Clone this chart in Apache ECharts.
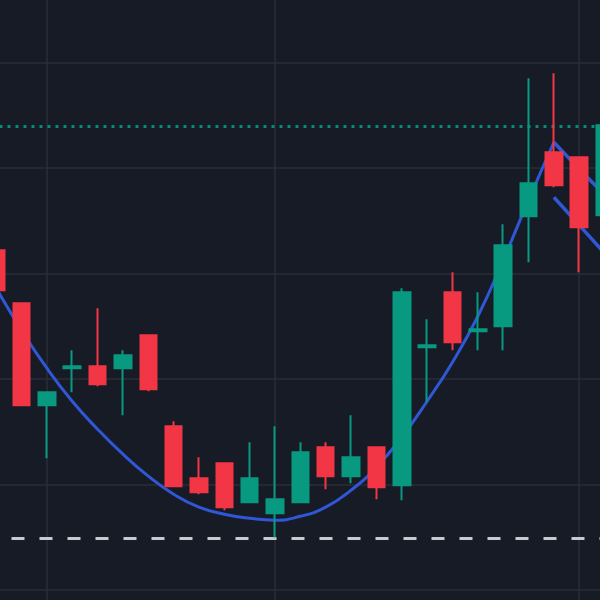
<!DOCTYPE html>
<html><head><meta charset="utf-8">
<script src="https://cdn.jsdelivr.net/npm/echarts@6/dist/echarts.min.js"></script>
<style>html,body{margin:0;padding:0;background:#171b26}#c{width:600px;height:600px}</style>
</head><body><div id="c"></div>
<script>
// ---- data ----
const categories = ['1','2','3','4','5','6','7','8','9','10','11','12','13','14','15','16','17','18','19','20','21','22','23','24','25'];
const opens  = [132.23,127.20,117.54,121.04,121.23,121.04,124.17,115.55,110.62,112.04,108.34,107.30,108.34,113.55,110.81,113.55,109.95,123.03,128.25,124.55,125.02,135.45,141.52,141.04,135.55];
const closes = [128.44,117.54,118.77,121.23,119.53,122.27,119.05,109.86,109.29,107.87,110.62,108.63,113.08,110.81,112.61,109.76,128.25,123.22,123.51,124.74,132.70,138.58,138.39,134.41,144.08];
const lows   = [128.44,117.54,112.51,118.77,119.34,116.59,118.86,109.86,109.10,107.58,108.34,105.00,108.34,109.57,110.14,108.63,108.53,117.82,122.75,122.75,122.75,131.09,138.20,130.14,135.40];
const highs  = [132.23,127.20,118.77,122.75,126.73,122.75,124.27,116.02,112.61,112.04,114.03,115.55,114.03,114.03,116.59,113.55,128.63,125.69,130.14,128.25,134.69,148.53,149.00,141.04,144.30];
const curve  = [128.63,124.64,121.04,117.91,115.26,112.89,110.81,109.10,107.87,107.20,106.82,106.64,107.01,107.87,109.48,111.66,114.50,117.91,121.61,125.97,131.28,136.97,142.46,null,null];
const channelUpper = [null,null,null,null,null,null,null,null,null,null,null,null,null,null,null,null,null,null,null,null,null,null,142.46,139.91,137.49];
const channelLower = [null,null,null,null,null,null,null,null,null,null,null,null,null,null,null,null,null,null,null,null,null,null,137.25,134.60,131.94];
const lastPrice = 144.0;
const supportLevel = 104.93;
const verticalGridIdx = [2, 11, 23];
const yTicks = {min: 90, max: 160, interval: 10};

// ---- chart ----
const UP = '#089981', DOWN = '#f23645', BLUE = '#2f57d6', GRID = '#2a2e39';
const ohlc = categories.map((c, i) => [opens[i], closes[i], lows[i], highs[i]]);
const chart = echarts.init(document.getElementById('c'), null, {renderer: 'canvas'});
chart.setOption({
  backgroundColor: '#171b26',
  animation: false,
  grid: {left: -16.5, right: -17.25, top: -42.8, bottom: -95.7, containLabel: false, outerBoundsMode: 'none'},
  xAxis: {
    type: 'category', data: categories, boundaryGap: true,
    axisLine: {show: false}, axisTick: {show: false}, axisLabel: {show: false},
    splitLine: {show: true, alignWithLabel: true, interval: (i) => verticalGridIdx.includes(i),
      lineStyle: {color: GRID, width: 1.5}}
  },
  yAxis: {
    type: 'value', min: yTicks.min, max: yTicks.max, interval: yTicks.interval, scale: true,
    axisLine: {show: false}, axisTick: {show: false}, axisLabel: {show: false},
    splitLine: {show: true, lineStyle: {color: GRID, width: 1.5}}
  },
  series: [
    {
      type: 'line', data: curve, smooth: 0.5, symbol: 'none', z: 1,
      lineStyle: {color: BLUE, width: 3},
      markLine: {
        silent: true, symbol: ['none', 'none'], label: {show: false}, z: 1, animation: false,
        data: [
          {yAxis: lastPrice, lineStyle: {color: UP, width: 3, type: [3, 5], opacity: 0.9}},
          {yAxis: supportLevel, lineStyle: {color: '#c8cad0', width: 3, type: [13, 15]}}
        ]
      }
    },
    {type: 'line', data: channelUpper, symbol: 'none', z: 1, lineStyle: {color: BLUE, width: 3.5}},
    {type: 'line', data: channelLower, symbol: 'none', z: 1, lineStyle: {color: BLUE, width: 3.5}},
    {
      type: 'candlestick', data: ohlc, barWidth: 17, z: 2,
      itemStyle: {color: UP, color0: DOWN, borderColor: UP, borderColor0: DOWN, borderWidth: 2}
    }
  ]
});
</script></body></html>
